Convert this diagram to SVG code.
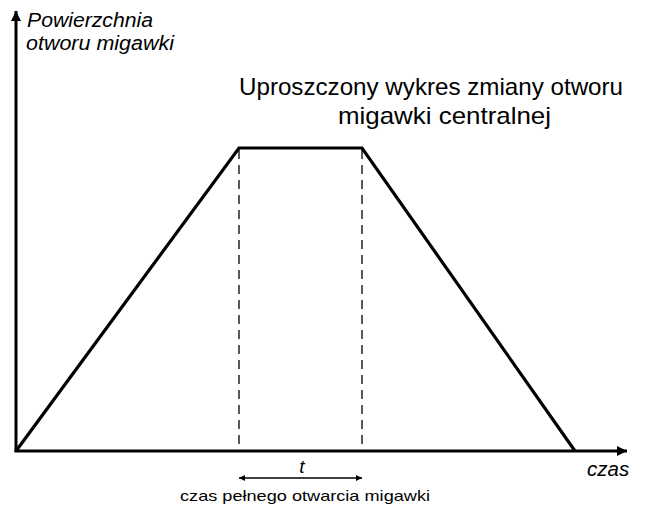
<svg xmlns="http://www.w3.org/2000/svg" width="648" height="508" viewBox="0 0 648 508">
<style>
.axis{stroke:#000;stroke-width:3;fill:none}
.curve{stroke:#000;stroke-width:3.2;fill:none;stroke-linejoin:miter}
.dash{stroke:#000;stroke-width:1.3;stroke-dasharray:9,6;fill:none}
.dim{stroke:#000;stroke-width:1.5;fill:none}
text{font-family:"Liberation Sans",Arial,sans-serif;fill:#000}
.it{font-style:italic}
</style>
<defs>
<marker id="ah" viewBox="0 0 10 10" refX="10" refY="5" markerWidth="19" markerHeight="10" markerUnits="userSpaceOnUse" orient="auto">
<path d="M0,0 L10,5 L0,10 Z" fill="#000"/>
</marker>
<marker id="sh" viewBox="0 0 10 10" refX="10" refY="5" markerWidth="12" markerHeight="6" markerUnits="userSpaceOnUse" orient="auto-start-reverse">
<path d="M0,0 L10,5 L0,10 Z" fill="#000"/>
</marker>
</defs>
<g id="axes">
<line class="axis" x1="16" y1="452" x2="16" y2="11" marker-end="url(#ah)"/>
<line class="axis" x1="14.5" y1="451" x2="627" y2="451" marker-end="url(#ah)"/>
</g>
<g id="connectors">
<polyline class="curve" points="16,451 239,148 362,148 575,451"/>
<line class="dash" x1="239" y1="150" x2="239" y2="450"/>
<line class="dash" x1="362" y1="150" x2="362" y2="450"/>
<line class="dim" x1="239" y1="478" x2="362" y2="478" marker-start="url(#sh)" marker-end="url(#sh)"/>
</g>
<g id="labels">
<text class="it" x="27" y="27" font-size="20" textLength="126" lengthAdjust="spacingAndGlyphs">Powierzchnia</text>
<text class="it" x="26" y="50" font-size="20" textLength="148" lengthAdjust="spacingAndGlyphs">otworu migawki</text>
<text x="239" y="95" font-size="24" textLength="384" lengthAdjust="spacingAndGlyphs">Uproszczony wykres zmiany otworu</text>
<text x="338" y="124" font-size="24" textLength="213" lengthAdjust="spacingAndGlyphs">migawki centralnej</text>
<text class="it" x="302" y="473" font-size="19" text-anchor="middle">t</text>
<text class="it" x="587" y="476" font-size="20.5">czas</text>
<text x="305" y="501" font-size="15" textLength="250" lengthAdjust="spacingAndGlyphs" text-anchor="middle">czas pełnego otwarcia migawki</text>
</g>
</svg>
